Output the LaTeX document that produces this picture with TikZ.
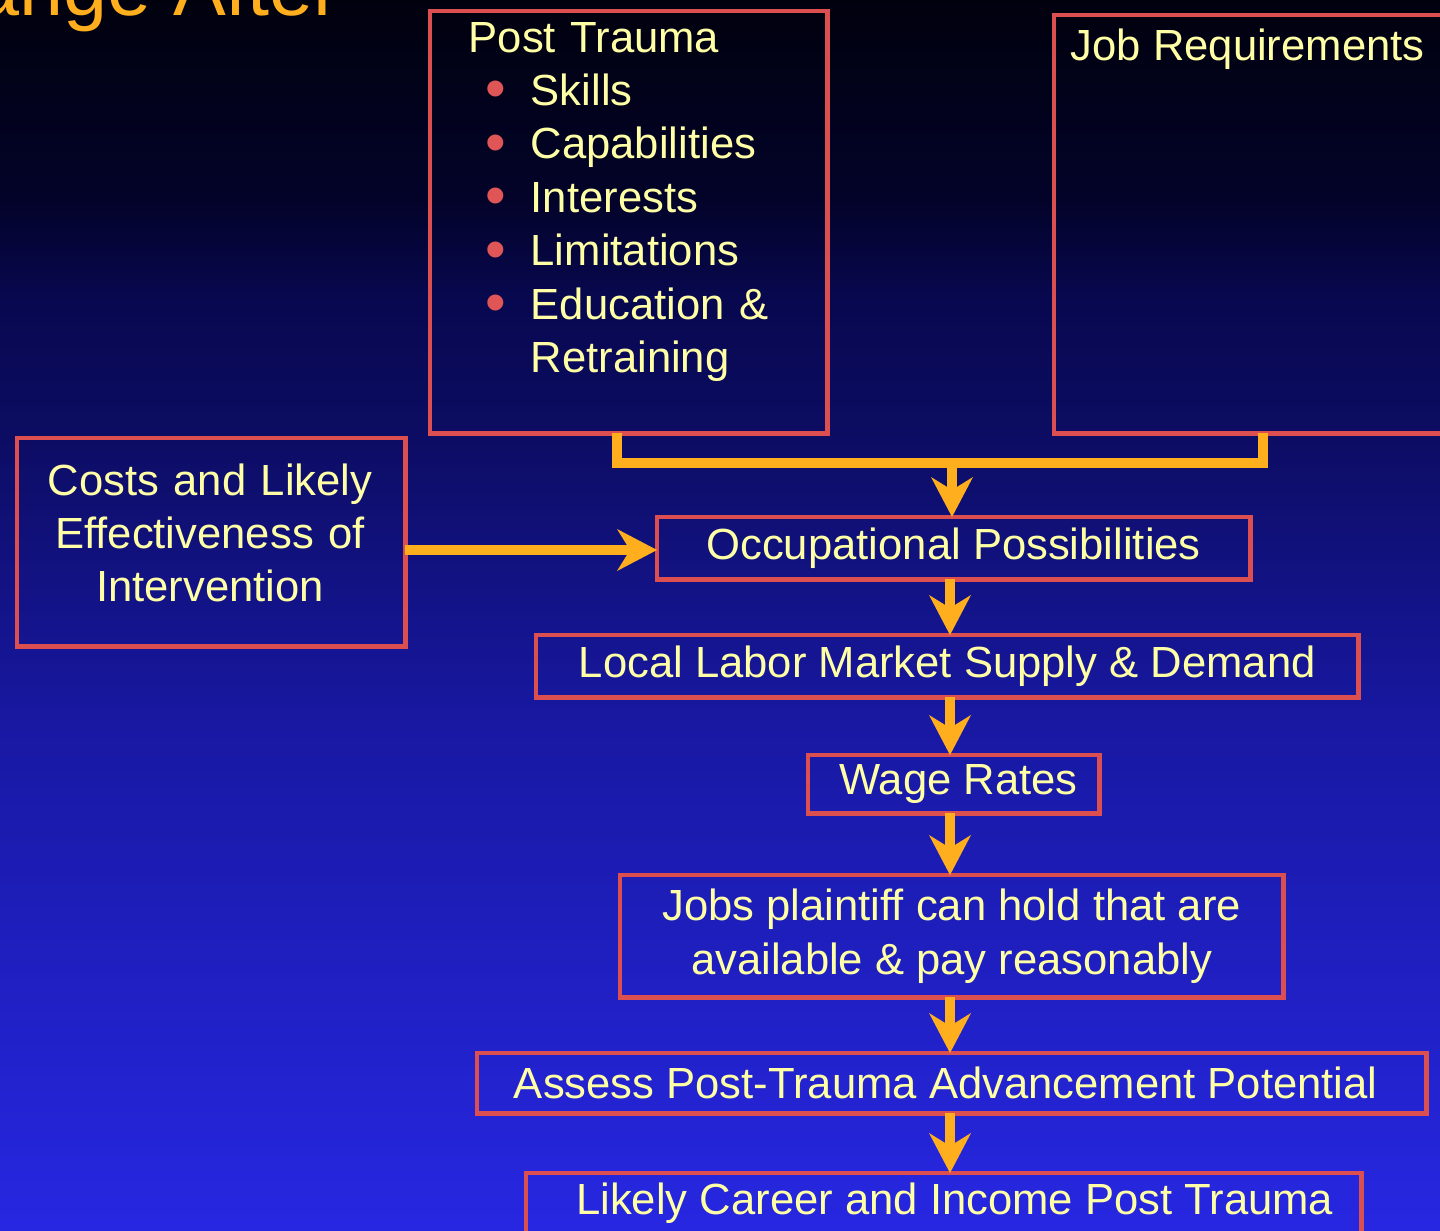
\documentclass[tikz,border=0pt]{standalone}
\usepackage{fontspec}
\setmainfont{Liberation Sans}
\usetikzlibrary{arrows.meta}
\definecolor{bgA}{HTML}{01010E}
\definecolor{bgB}{HTML}{03032A}
\definecolor{bgC}{HTML}{080850}
\definecolor{bgD}{HTML}{0C0C62}
\definecolor{bgE}{HTML}{1818A2}
\definecolor{bgF}{HTML}{2727E2}
\definecolor{boxred}{HTML}{DB4F50}
\definecolor{txtyel}{HTML}{FFFFA6}
\definecolor{arrorange}{HTML}{FFAE1E}
\definecolor{bulred}{HTML}{E05555}
\pgfdeclareverticalshading{bgshade}{100bp}{color(0bp)=(bgF); color(25bp)=(bgF); color(45.73bp)=(bgE); color(57.52bp)=(bgD); color(62.8bp)=(bgC); color(66.87bp)=(bgB); color(75bp)=(bgA); color(100bp)=(bgA)}
\newcommand\bitem{\makebox[0.62cm][l]{\hspace{0.17cm}\raisebox{-0.08em}{\textcolor{bulred}{\scalebox{1.35}{\textbullet}}}}}
\begin{document}
\begin{tikzpicture}[x=0.01cm,y=-0.01cm,
  txt/.style={text=txtyel, font=\fontsize{12.4}{15.2}\selectfont, inner sep=0pt},
  box/.style={draw=boxred, line width=1.4pt, inner sep=0pt, outer sep=0pt, anchor=north west, text=txtyel, font=\fontsize{12.4}{15.2}\selectfont, align=center},
  bar/.style={draw=arrorange, line width=3.1pt, line join=miter},
  arr/.style={draw=arrorange, line width=3.1pt, -{Stealth[length=0.4cm, width=0.42cm, inset=0.13cm, line width=0pt]}}]
\useasboundingbox (0,0) rectangle (1440,1230);
\clip (0,0) rectangle (1440,1230);
\shade[shading=bgshade] (0,0) rectangle (1440,1230);
% title fragment
\node[text=arrorange, font=\fontsize{22.5}{26}\selectfont, inner sep=0pt, anchor=base east] (title) at (341,15) {Change After};
% boxes
\node[box, minimum width=3.97cm, minimum height=4.22cm] (pt) at (430,11) {};
\node[box, minimum width=3.96cm, minimum height=4.18cm] (jr) at (1054,15) {};
\node[box, minimum width=3.88cm, minimum height=2.08cm] (cost) at (17,438) {};
\node[box, minimum width=5.93cm, minimum height=0.62cm] (occ) at (657,517) {Occupational Possibilities};
\node[box, minimum width=8.22cm, minimum height=0.62cm] (loc) at (536,635) {Local Labor Market Supply \& Demand};
\node[box, minimum width=2.91cm, minimum height=0.58cm] (wage) at (808,755) {\hspace*{0.1cm}Wage Rates};
\node[box, minimum width=6.63cm, minimum height=1.22cm] (jobs) at (620,875) {Jobs plaintiff can hold that are\\available \& pay reasonably};
\node[box, minimum width=9.49cm, minimum height=0.60cm] (assess) at (477,1053) {Assess Post-Trauma Advancement Potential\hspace*{0.12cm}};
\node[box, minimum width=8.35cm, minimum height=0.61cm] (likely) at (526,1173) {\hspace*{0.22cm}Likely Career and Income Post Trauma};
% texts of the large boxes
\node[txt, anchor=base west, text width=3.5cm, align=left] (ptt) at (468,52) {Post Trauma\\
\bitem Skills\\
\bitem Capabilities\\
\bitem Interests\\
\bitem Limitations\\
\bitem Education \&\\
\hspace*{0.62cm}Retraining};
\node[txt, anchor=base west] (jrt) at (1070,60) {Job Requirements};
\node[txt, anchor=base, text width=3.8cm, align=center] (costt) at (210,495) {Costs and Likely\\Effectiveness of\\Intervention};
% connectors
\coordinate (ax) at (950,0);
\coordinate (j) at (952,463);
\coordinate (h) at (0,550);
\draw[bar] (pt.south -| 617,0) |- (j) -| (jr.south -| 1263,0);
\draw[arr] (j) -- (occ.north -| j);
\draw[arr] (cost.east |- h) -- (occ.west |- h);
\draw[arr] (occ.south -| ax) -- (loc.north -| ax);
\draw[arr] (loc.south -| ax) -- (wage.north -| ax);
\draw[arr] (wage.south -| ax) -- (jobs.north -| ax);
\draw[arr] (jobs.south -| ax) -- (assess.north -| ax);
\draw[arr] (assess.south -| ax) -- (likely.north -| ax);
\end{tikzpicture}
\end{document}
